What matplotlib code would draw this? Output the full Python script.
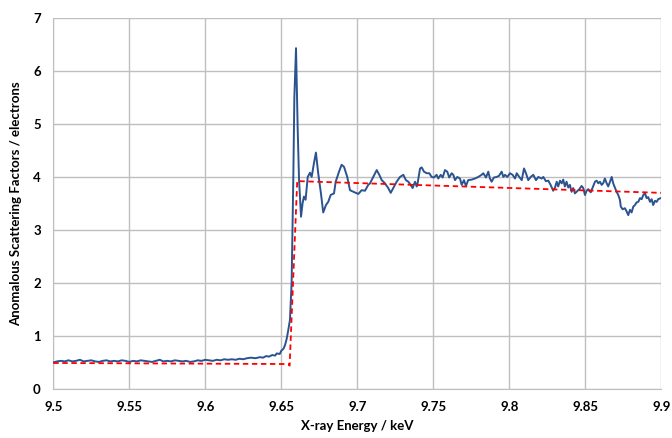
import numpy as np
import matplotlib
matplotlib.use("Agg")
import matplotlib.pyplot as plt

# pre-edge region, sampled every 2.5 eV from 9.5 keV
pre_edge_start = 9.5
pre_edge_step = 0.0025
pre_edge_f = [0.50, 0.52, 0.53, 0.52, 0.54, 0.52, 0.53, 0.55, 0.52, 0.53,
              0.54, 0.52, 0.51, 0.53, 0.54, 0.52, 0.53, 0.52, 0.54, 0.53,
              0.51, 0.53, 0.52, 0.54, 0.53, 0.52, 0.51, 0.53, 0.55, 0.52,
              0.53, 0.52, 0.54, 0.53, 0.52, 0.53, 0.51, 0.52, 0.54, 0.53,
              0.55, 0.54, 0.53, 0.55, 0.54, 0.56, 0.55, 0.56, 0.55, 0.57,
              0.56, 0.58]

# edge and post-edge region (keV, electrons)
edge_e = [9.6300, 9.6330, 9.6360, 9.6380, 9.6400, 9.6420, 9.6440, 9.6460, 9.6470, 9.6490,
          9.6500, 9.6515, 9.6525, 9.6536, 9.6546, 9.6557, 9.6568, 9.6579, 9.6586, 9.6597,
          9.6608, 9.6617, 9.6630, 9.6640, 9.6649, 9.6660, 9.6674, 9.6689, 9.6700, 9.6715,
          9.6728, 9.6743, 9.6761, 9.6776, 9.6794, 9.6809, 9.6825, 9.6847, 9.6858, 9.6880,
          9.6897, 9.6913, 9.6934, 9.6952, 9.6974, 9.6990, 9.7007, 9.7029, 9.7051, 9.7072,
          9.7084, 9.7105, 9.7128, 9.7145, 9.7161, 9.7182, 9.7204, 9.7220, 9.7237, 9.7259,
          9.7281, 9.7303, 9.7320, 9.7336, 9.7351, 9.7364, 9.7380, 9.7391, 9.7397, 9.7413,
          9.7424, 9.7439, 9.7457, 9.7474, 9.7489, 9.7505, 9.7522, 9.7533, 9.7549, 9.7562,
          9.7577, 9.7592, 9.7605, 9.7621, 9.7632, 9.7643, 9.7658, 9.7676, 9.7687, 9.7702,
          9.7715, 9.7730, 9.7753, 9.7774, 9.7796, 9.7818, 9.7829, 9.7847, 9.7862, 9.7873,
          9.7884, 9.7899, 9.7917, 9.7932, 9.7950, 9.7961, 9.7972, 9.7987, 9.8005, 9.8022,
          9.8038, 9.8049, 9.8066, 9.8082, 9.8097, 9.8110, 9.8125, 9.8141, 9.8158, 9.8176,
          9.8191, 9.8213, 9.8224, 9.8241, 9.8257, 9.8272, 9.8289, 9.8301, 9.8312, 9.8322,
          9.8334, 9.8345, 9.8355, 9.8366, 9.8377, 9.8388, 9.8399, 9.8410, 9.8421, 9.8432,
          9.8443, 9.8461, 9.8476, 9.8487, 9.8498, 9.8509, 9.8520, 9.8536, 9.8553, 9.8564,
          9.8575, 9.8586, 9.8597, 9.8608, 9.8618, 9.8629, 9.8641, 9.8651, 9.8663, 9.8674,
          9.8684, 9.8695, 9.8706, 9.8717, 9.8728, 9.8734, 9.8746, 9.8761, 9.8772, 9.8783,
          9.8794, 9.8805, 9.8816, 9.8827, 9.8838, 9.8849, 9.8860, 9.8871, 9.8882, 9.8893,
          9.8904, 9.8914, 9.8926, 9.8937, 9.8947, 9.8959, 9.8970, 9.8980, 9.8996]
edge_f = [0.59, 0.58, 0.60, 0.59, 0.62, 0.61, 0.64, 0.63, 0.67, 0.66,
          0.72, 0.76, 0.83, 0.95, 1.11, 1.30, 2.00, 3.94, 5.50, 6.43,
          4.90, 3.94, 3.25, 3.50, 3.63, 3.57, 4.00, 4.08, 4.00, 4.26,
          4.46, 4.07, 3.69, 3.33, 3.47, 3.53, 3.66, 3.69, 3.91, 4.10,
          4.23, 4.19, 4.00, 3.75, 3.72, 3.70, 3.68, 3.75, 3.74, 3.85,
          3.88, 4.00, 4.13, 4.04, 3.94, 3.88, 3.79, 3.70, 3.79, 3.91,
          4.00, 4.04, 3.94, 3.91, 3.85, 3.79, 3.91, 3.82, 3.88, 4.16,
          4.18, 4.10, 4.07, 4.07, 4.00, 3.99, 4.04, 3.97, 4.04, 3.99,
          4.13, 4.10, 3.99, 4.07, 4.04, 3.94, 4.00, 3.97, 3.85, 3.94,
          3.83, 3.94, 3.95, 3.97, 4.00, 4.04, 4.07, 3.99, 4.10, 3.97,
          3.91, 3.99, 4.00, 4.02, 4.10, 4.00, 4.04, 4.00, 4.07, 4.04,
          3.97, 4.07, 4.00, 3.94, 4.16, 4.07, 3.94, 4.00, 4.04, 3.94,
          4.00, 3.97, 4.00, 3.92, 3.93, 3.85, 3.74, 3.80, 3.91, 3.82,
          3.93, 3.88, 3.95, 3.82, 3.91, 3.80, 3.85, 3.72, 3.79, 3.69,
          3.72, 3.77, 3.83, 3.79, 3.66, 3.74, 3.77, 3.71, 3.83, 3.91,
          3.93, 3.88, 3.91, 3.85, 3.88, 3.97, 3.88, 3.82, 3.91, 4.00,
          3.88, 3.80, 3.72, 3.66, 3.57, 3.44, 3.39, 3.41, 3.35, 3.28,
          3.38, 3.33, 3.44, 3.47, 3.52, 3.53, 3.60, 3.58, 3.66, 3.69,
          3.60, 3.62, 3.53, 3.58, 3.47, 3.55, 3.53, 3.58, 3.60]

# step-function model (dashed red)
model_e = [9.5, 9.6545, 9.6555, 9.6605, 9.6620, 9.9]
model_f = [0.49, 0.47, 0.44, 3.93, 3.92, 3.70]

pre_edge_e = pre_edge_start + pre_edge_step * np.arange(len(pre_edge_f))
energy = np.concatenate([pre_edge_e, edge_e])
f_obs = np.concatenate([pre_edge_f, edge_f])

x_ticks = [9.5, 9.55, 9.6, 9.65, 9.7, 9.75, 9.8, 9.85, 9.9]
x_tick_labels = ['9.5', '9.55', '9.6', '9.65', '9.7', '9.75', '9.8', '9.85', '9.9']
y_ticks = [0, 1, 2, 3, 4, 5, 6, 7]

plt.rcParams['font.family'] = ['Lato', 'DejaVu Sans']

fig = plt.figure(figsize=(6.72, 4.38), dpi=100)
ax = fig.add_axes([0.0793, 0.112, 0.9047, 0.847])

ax.plot(energy, f_obs, color='#2B5390', lw=1.4, zorder=3)
ax.plot(model_e, model_f, color='#FF0000', lw=1.3, ls=(0, (3, 2)), zorder=4)

ax.set_xlim(9.5, 9.9)
ax.set_ylim(0, 7)
ax.set_xticks(x_ticks)
ax.set_xticklabels(x_tick_labels)
ax.set_yticks(y_ticks)
ax.grid(True, color='#BFBFBF', lw=1.0)
ax.set_axisbelow(True)
for side in ['top', 'right']:
    ax.spines[side].set_visible(False)
for side in ['left', 'bottom']:
    ax.spines[side].set_color('#BFBFBF')
ax.tick_params(length=0, labelsize=9.5, pad=9)
for lbl in ax.get_xticklabels() + ax.get_yticklabels():
    lbl.set_fontweight('bold')

ax.set_xlabel('X-ray Energy / keV', fontsize=9.5, fontweight='bold', labelpad=5)
ax.set_ylabel('Anomalous Scattering Factors / electrons', fontsize=9.5,
              fontweight='bold', labelpad=8)

fig.savefig('out.png', dpi=100)
